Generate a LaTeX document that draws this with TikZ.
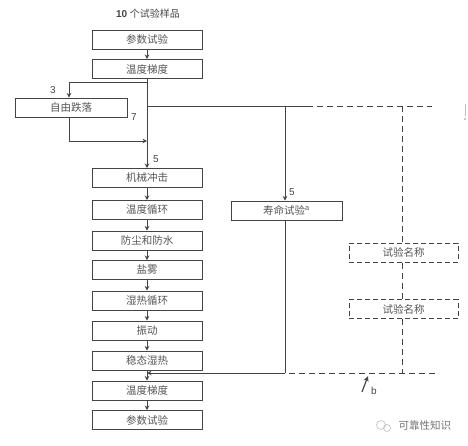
\documentclass[tikz,border=0pt]{standalone}
\usepackage{fontspec}
\setmainfont{Liberation Sans}
\newfontfamily\cjk{Noto Sans CJK SC}
\usetikzlibrary{arrows.meta}
\definecolor{ln}{HTML}{444444}
\definecolor{tx}{HTML}{555555}
\tikzset{
  box/.style={draw=ln, line width=1pt, minimum width=110pt, minimum height=19pt, inner sep=0pt, font=\cjk\fontsize{10.5}{12}\selectfont, text=tx},
  dbox/.style={box, dashed, dash pattern=on 5pt off 3pt},
  con/.style={draw=ln, line width=1pt},
  dcon/.style={con, dash pattern=on 6pt off 4pt},
  arr/.style={con, -{Stealth[length=4.5pt,width=4.5pt]}},
  num/.style={font=\fontsize{10}{11}\selectfont, text=ln, inner sep=0pt}
}
\begin{document}
\begin{tikzpicture}[x=1pt,y=-1pt]
\useasboundingbox (0,0) rectangle (468,445);
\node[font=\fontsize{10}{12}\selectfont, text=ln] (title) at (148,14) {\textbf{10} {\cjk 个试验样品}};
\node[box] (p1) at (147,39.5) {参数试验};
\node[box] (t1) at (147,69) {温度梯度};
\node[box, minimum width=112pt] (ff) at (71,107.5) {自由跌落};
\node[box] (mc) at (147,178) {机械冲击};
\node[box] (tc) at (147,210) {温度循环};
\node[box] (dw) at (147,240.5) {防尘和防水};
\node[box] (sf) at (147,270) {盐雾};
\node[box] (dh) at (147,300.5) {湿热循环};
\node[box] (vb) at (147,330.5) {振动};
\node[box] (sh) at (147,360.5) {稳态湿热};
\node[box] (t2) at (147,390.5) {温度梯度};
\node[box] (p2) at (147,420) {参数试验};
\node[box, minimum width=111pt] (lt) at (286.5,210.5) {寿命试验\textsuperscript{\rmfamily a}};
\node[dbox, minimum width=109pt] (n1) at (403.5,252.5) {试验名称};
\node[dbox, minimum width=109pt] (n2) at (403.5,309) {试验名称};

\coordinate (j1) at (147,82);
\coordinate (j1l) at (69,82);
\coordinate (j2) at (147,106);
\coordinate (j2m) at (285,106);
\coordinate (j2s) at (307,106);
\coordinate (j2d) at (402,106);
\coordinate (j2e) at (432,106);
\coordinate (ffb) at (69,141);
\coordinate (ffm) at (147,141);
\coordinate (bm) at (285,373);
\coordinate (bd) at (402,373);
\coordinate (be) at (435,373);
\coordinate (bj) at (147,373);
\coordinate (bs) at (362,392);
\coordinate (bt) at (368,376);

\draw[arr] (p1) -- (t1);
\draw[arr] (t1.south) -- (mc.north);
\draw[arr] (j1) -- (j1l) -- (ff.north -| j1l);
\draw[arr] (ff.south -| ffb) -- (ffb) -- (ffm);
\draw[con] (j2) -- (j2s);
\draw[dcon] (j2s) -- (j2e);
\draw[arr] (j2m) -- (lt.north -| j2m);
\draw[con] (lt.south -| j2m) -- (bm);
\draw[dcon] (j2d) -- (n1.north -| j2d);
\draw[dcon] (n1.south -| j2d) -- (n2.north -| j2d);
\draw[dcon] (n2.south -| j2d) -- (bd);
\draw[dcon] (be) -- (bm);
\draw[arr] (bm) -- (bj);
\draw[arr] (mc) -- (tc);
\draw[arr] (tc) -- (dw);
\draw[arr] (dw) -- (sf);
\draw[arr] (sf) -- (dh);
\draw[arr] (dh) -- (vb);
\draw[arr] (vb) -- (sh);
\draw[arr] (sh) -- (t2);
\draw[arr] (t2) -- (p2);
\draw[con, line width=1.2pt, -{Stealth[length=5.5pt,width=5pt]}] (bs) -- (bt);

\node[num] (l3) at (53,90) {3};
\node[num] (l7) at (134,117) {7};
\node[num] (l5a) at (156,159) {5};
\node[num] (l5b) at (292,192) {5};
\node[num] (lb) at (374,391) {b};

\draw[black!25, line width=0.5pt] (465,104) -- (465,116);
\fill[black!45] (465,119) circle (0.9);

\draw[black!25, line width=0.6pt] (381,425) circle (4.5);
\draw[black!25, line width=0.6pt] (387,428) circle (3.5);
\node[font=\cjk\fontsize{10.5}{12}\selectfont, text=black!55, anchor=west] (wm) at (395,425) {可靠性知识};
\end{tikzpicture}
\end{document}
